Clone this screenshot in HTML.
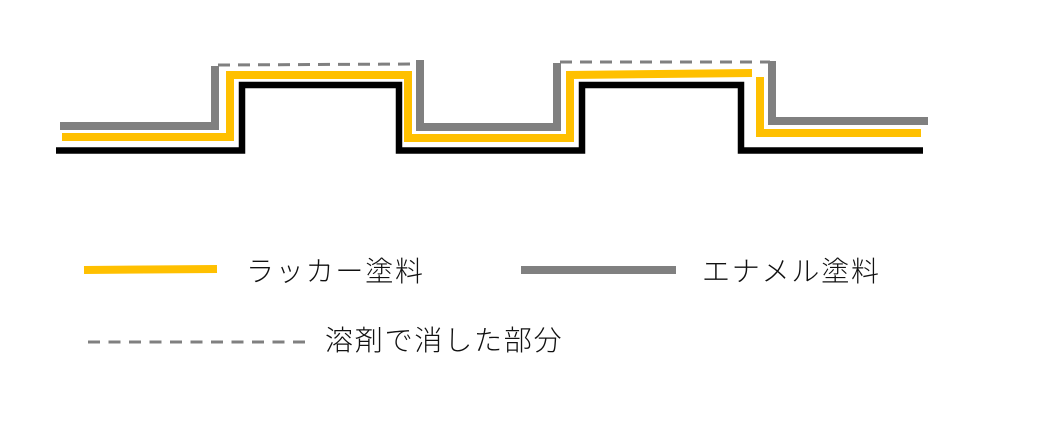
<!DOCTYPE html>
<html><head><meta charset="utf-8"><style>
html,body{margin:0;padding:0;background:#fff;}
svg{display:block}
text{font-family:"Liberation Sans","Noto Sans CJK JP",sans-serif;font-weight:300;font-size:28px;fill:#111;letter-spacing:1.8px}
</style></head><body>
<svg width="1047" height="435" viewBox="0 0 1047 435" xmlns="http://www.w3.org/2000/svg">
<g fill="none" stroke-linejoin="miter">
<polyline points="60,126 215,126 215,66" stroke="#808080" stroke-width="8"/>
<polyline points="420,60 420,127 557,127 557,63" stroke="#808080" stroke-width="8"/>
<polyline points="772,61 772,121 928,121" stroke="#808080" stroke-width="8"/>
<line x1="218" y1="65" x2="416" y2="64" stroke="#808080" stroke-width="3" stroke-dasharray="12,8"/>
<line x1="560" y1="62" x2="770" y2="62" stroke="#808080" stroke-width="3" stroke-dasharray="12,8"/>
<polyline points="62,137 230,137 230,75 408,75 408,138 570,138 570,75 752,73" stroke="#FFC000" stroke-width="8"/>
<polyline points="760,77 760,133 921,133" stroke="#FFC000" stroke-width="8"/>
<polyline points="56,150.5 242,150.5 242,85 399,85 399,150.5 582,150.5 582,85 741,85 741,150.5 923,150.5" stroke="#000" stroke-width="6.5"/>
<line x1="84" y1="270" x2="217" y2="269" stroke="#FFC000" stroke-width="8"/>
<line x1="521" y1="270" x2="676" y2="270" stroke="#808080" stroke-width="8"/>
<line x1="88" y1="342" x2="308" y2="342" stroke="#808080" stroke-width="3" stroke-dasharray="12,8.5"/>
</g>
<text x="246" y="281">ラッカー塗料</text>
<text x="702" y="281">エナメル塗料</text>
<text x="325" y="350">溶剤で消した部分</text>
</svg>
</body></html>
